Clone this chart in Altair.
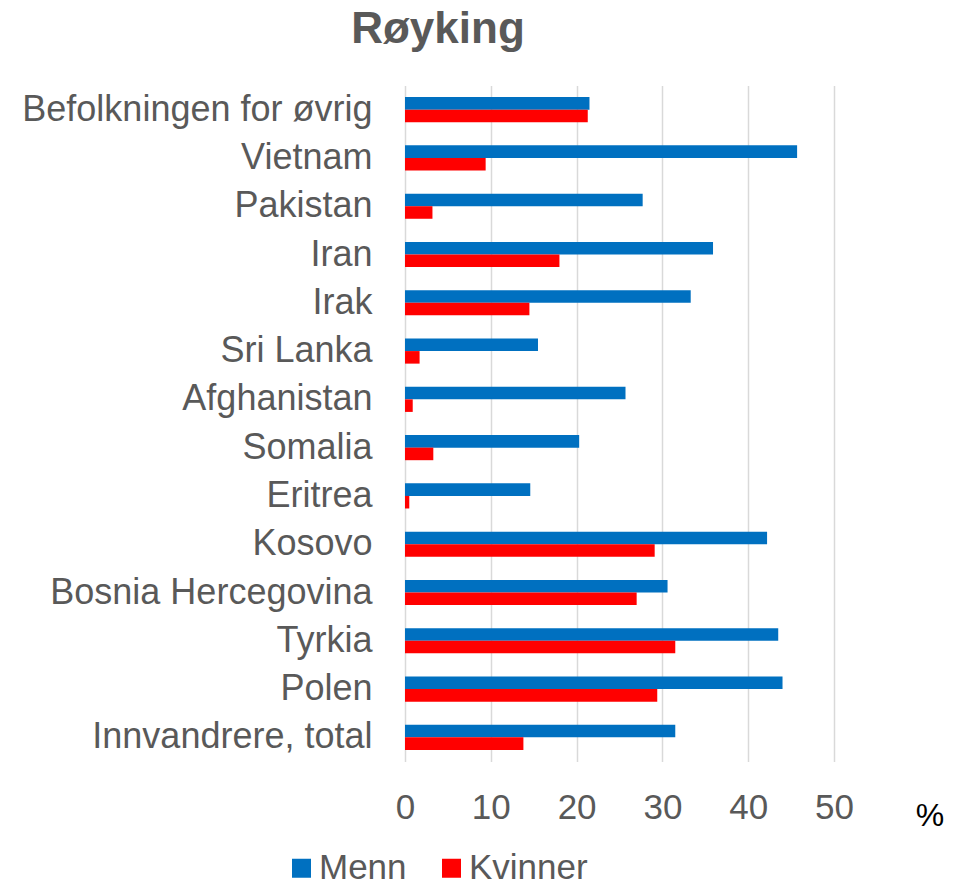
import altair as alt
import pandas as pd

categories = [
    "Befolkningen for øvrig", "Vietnam", "Pakistan", "Iran", "Irak",
    "Sri Lanka", "Afghanistan", "Somalia", "Eritrea", "Kosovo",
    "Bosnia Hercegovina", "Tyrkia", "Polen", "Innvandrere, total",
]
menn = [21.5, 45.7, 27.7, 35.9, 33.3, 15.5, 25.7, 20.3, 14.6, 42.2, 30.6, 43.5, 44.0, 31.5]
kvinner = [21.3, 9.4, 3.2, 18.0, 14.5, 1.7, 0.9, 3.3, 0.5, 29.1, 27.0, 31.5, 29.4, 13.8]
series = ["Menn", "Kvinner"]
colors = ["#0070C0", "#FF0000"]
x_ticks = [0, 10, 20, 30, 40, 50]
title_text = "Røyking"
unit_text = "%"

rows = []
for c, m, k in zip(categories, menn, kvinner):
    rows.append({"land": c, "serie": "Menn", "verdi": m})
    rows.append({"land": c, "serie": "Kvinner", "verdi": k})
df = pd.DataFrame(rows)

grey = "#595959"

bars = alt.Chart(df).mark_bar().encode(
    x=alt.X("verdi:Q", scale=alt.Scale(domain=[0, 50], nice=False),
            axis=alt.Axis(values=x_ticks, title=None, grid=True, gridColor="#d9d9d9",
                          gridWidth=1.5, domain=False, ticks=False, labelFontSize=35,
                          labelColor=grey, labelPadding=29, labelFlush=False)),
    y=alt.Y("land:N", sort=categories,
            scale=alt.Scale(paddingInner=0.48, paddingOuter=0.24),
            axis=alt.Axis(title=None, domain=False, ticks=False, grid=False,
                          labelFontSize=36, labelColor=grey, labelPadding=33,
                          labelLimit=0)),
    yOffset=alt.YOffset("serie:N", sort=series, scale=alt.Scale(domain=series)),
    color=alt.Color("serie:N", scale=alt.Scale(domain=series, range=colors),
                    legend=alt.Legend(orient="none", legendX=-121, legendY=765,
                                      direction="horizontal", title=None,
                                      symbolType="square", symbolSize=361,
                                      symbolStrokeWidth=0, labelFontSize=35,
                                      labelColor=grey, columnPadding=27,
                                      labelOffset=0)),
)

txt_df = pd.DataFrame({"t": [title_text]})
title = alt.Chart(txt_df).mark_text(
    fontSize=44, fontWeight="bold", color=grey, align="center", baseline="alphabetic"
).encode(text="t:N", x=alt.value(33), y=alt.value(-43))

unit_df = pd.DataFrame({"t": [unit_text]})
unit = alt.Chart(unit_df).mark_text(
    fontSize=32, color="black", align="center", baseline="middle"
).encode(text="t:N", x=alt.value(525), y=alt.value(730))

chart = alt.layer(bars, title, unit).properties(
    width=429, height=676,
    padding={"left": 397, "top": 77.5, "right": 111, "bottom": 124},
    autosize="none",
).configure(font="Liberation Sans").configure_view(stroke=None)

chart.save("out.html", embed_options={"renderer": "svg", "actions": False})
